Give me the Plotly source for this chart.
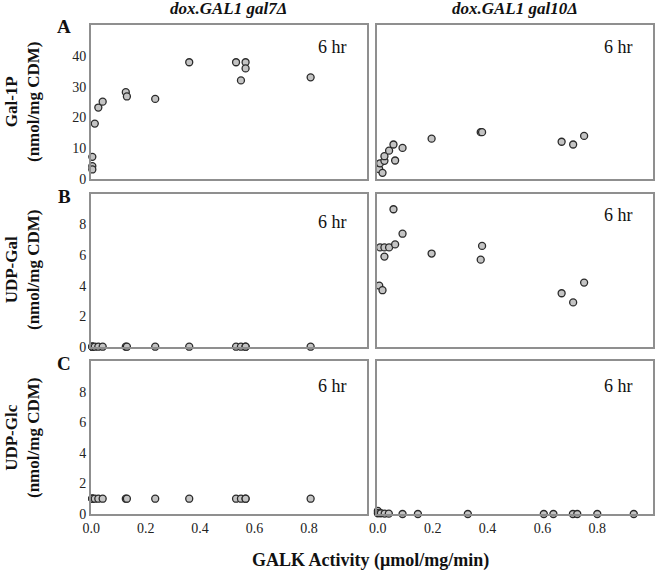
import plotly.graph_objects as go

# ---------------- data ----------------
col_titles = ["dox.GAL1 gal7Δ", "dox.GAL1 gal10Δ"]
row_titles = ["Gal-1P<br>(nmol/mg CDM)", "UDP-Gal<br>(nmol/mg CDM)", "UDP-Glc<br>(nmol/mg CDM)"]
panel_letters = ["A", "B", "C"]

# gal7Δ column (GALK activity, µmol/mg/min)
left_x = [0.004, 0.004, 0.004, 0.013, 0.026, 0.042, 0.127, 0.131, 0.235, 0.36, 0.532, 0.55, 0.567, 0.567, 0.806]
left_gal1p = [7.2, 4.2, 3.1, 18.0, 23.2, 25.1, 28.2, 26.8, 26.0, 37.9, 37.9, 32.0, 37.9, 35.9, 33.0]
left_udpgal = [0, 0, 0, 0, 0, 0, 0, 0, 0, 0, 0, 0, 0, 0, 0]
left_udpglc = [1.0, 1.0, 1.0, 1.0, 1.0, 1.0, 1.0, 1.0, 1.0, 1.0, 1.0, 1.0, 1.0, 1.0, 1.0]

# gal10Δ column
right_x = [0.005, 0.008, 0.017, 0.024, 0.024, 0.041, 0.057, 0.063, 0.09, 0.196, 0.375, 0.38, 0.67, 0.712, 0.752]
right_gal1p = [3.2, 5.1, 2.0, 5.9, 7.4, 9.2, 11.2, 6.0, 10.1, 13.1, 15.2, 15.2, 12.1, 11.2, 14.0]
right_udpgal = [4.0, 6.5, 3.7, 6.5, 5.9, 6.5, 9.0, 6.7, 7.4, 6.1, 5.7, 6.6, 3.5, 2.9, 4.2]
right_glc_x = [0.0, 0.0, 0.011, 0.025, 0.04, 0.09, 0.146, 0.328, 0.605, 0.64, 0.711, 0.727, 0.8, 0.933]
right_udpglc = [0.2, 0.05, 0.05, 0.03, 0.02, 0, 0, 0, 0, 0, 0, 0, 0, 0]

time_label = "6 hr"
x_title = "GALK Activity (μmol/mg/min)"
left_xticks = [0, 0.2, 0.4, 0.6, 0.8]
right_xticks = [0, 0.2, 0.4, 0.6, 0.8, 1.0]
gal1p_ticks = [0, 10, 20, 30, 40]
udp_ticks = [0, 2, 4, 6, 8]

# ---------------- layout ----------------
W, H = 658, 572
SERIF = "Liberation Serif"
FRAME = "#8f8f8f"

def px_x(a, b):
    return [a / W, b / W]

def px_y(top, bottom):
    return [1 - bottom / H, 1 - top / H]

xdom = [px_x(90.7, 366.7), px_x(377.3, 652.7)]
ydom = [px_y(25, 179), px_y(194, 346.7), px_y(361, 514)]

panels = [
    # (row, col, x, y)
    (0, 0, left_x, left_gal1p),
    (0, 1, right_x, right_gal1p),
    (1, 0, left_x, left_udpgal),
    (1, 1, right_x, right_udpgal),
    (2, 0, left_x, left_udpglc),
    (2, 1, right_glc_x, right_udpglc),
]

fig = go.Figure()
layout = {}
annotations = []
hr_pos = {(0, 0): 0.857, (0, 1): 0.857, (1, 0): 0.815, (1, 1): 0.86, (2, 0): 0.837, (2, 1): 0.837}

for i, (r, c, xs, ys) in enumerate(panels):
    n = i + 1
    xa = "x" if n == 1 else f"x{n}"
    ya = "y" if n == 1 else f"y{n}"
    fig.add_trace(go.Scatter(
        x=xs, y=ys, mode="markers", xaxis=xa, yaxis=ya, cliponaxis=False,
        marker=dict(size=7, color="#c4c4c4", line=dict(color="#2a2a2a", width=1.3)),
        showlegend=False, hoverinfo="x+y",
    ))
    xkey = "xaxis" if n == 1 else f"xaxis{n}"
    ykey = "yaxis" if n == 1 else f"yaxis{n}"
    bottom = r == 2
    ticks_x = left_xticks if c == 0 else right_xticks
    layout[xkey] = dict(
        domain=xdom[c], anchor=ya, automargin=False,
        range=[-0.002, 1.012] if c == 0 else [-0.002, 1.002],
        tickvals=ticks_x, ticktext=[f"{v:.1f}" for v in ticks_x],
        showticklabels=bottom, ticks="", showgrid=False, zeroline=False,
        showline=True, linecolor=FRAME, linewidth=1.5, mirror=True,
        tickfont=dict(family=SERIF, size=14, color="#222"),
    )
    yt = gal1p_ticks if r == 0 else udp_ticks
    layout[ykey] = dict(
        domain=ydom[r], anchor=xa, automargin=False,
        range=[0, 50] if r == 0 else [0, 10],
        tickvals=yt, showticklabels=(c == 0), ticks="", showgrid=False, zeroline=False,
        showline=True, linecolor=FRAME, linewidth=1.5, mirror=True,
        tickfont=dict(family=SERIF, size=14, color="#222"),
    )
    annotations.append(dict(
        text=time_label, xref=f"{xa} domain", yref=f"{ya} domain",
        x=0.877, y=hr_pos[(r, c)], showarrow=False, xanchor="center", yanchor="middle",
        font=dict(family=SERIF, size=18, color="#111"),
    ))

# column titles
for c, t in enumerate(col_titles):
    cx = (xdom[c][0] + xdom[c][1]) / 2
    annotations.append(dict(
        text=f"<b><i>{t}</i></b>", xref="paper", yref="paper", x=cx, y=1 - 9 / H,
        showarrow=False, xanchor="center", yanchor="middle",
        font=dict(family=SERIF, size=17, color="#111"),
    ))

# row titles and panel letters
row_centers = [102, 270, 438]
letter_y = [27, 196, 363]
for r in range(3):
    annotations.append(dict(
        text=f"<b>{row_titles[r]}</b>", xref="paper", yref="paper",
        x=22 / W, y=1 - row_centers[r] / H, textangle=-90,
        showarrow=False, xanchor="center", yanchor="middle",
        font=dict(family=SERIF, size=17, color="#111"),
    ))
    annotations.append(dict(
        text=f"<b>{panel_letters[r]}</b>", xref="paper", yref="paper",
        x=64 / W, y=1 - letter_y[r] / H,
        showarrow=False, xanchor="center", yanchor="middle",
        font=dict(family=SERIF, size=19, color="#111"),
    ))

annotations.append(dict(
    text=f"<b>{x_title}</b>", xref="paper", yref="paper", x=370 / W, y=1 - 560 / H,
    showarrow=False, xanchor="center", yanchor="middle",
    font=dict(family=SERIF, size=18, color="#111"),
))

fig.update_layout(
    width=W, height=H, margin=dict(l=0, r=0, t=0, b=0),
    paper_bgcolor="white", plot_bgcolor="white",
    annotations=annotations, **layout,
)

fig.write_html(
    "out.html",
    config={"displayModeBar": False},
    post_script="document.body.style.margin='0';document.body.style.overflow='hidden';",
)
